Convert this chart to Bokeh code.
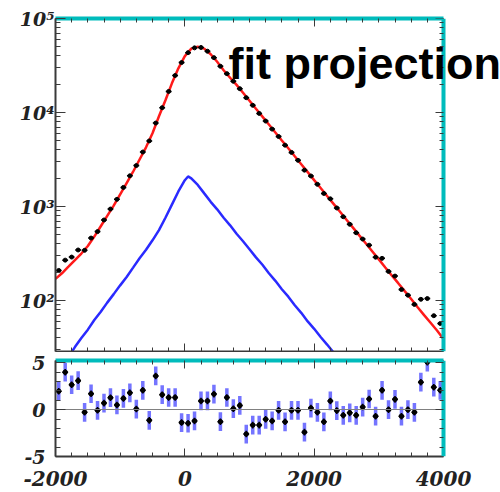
import numpy as np
from bokeh.plotting import figure
from bokeh.layouts import column
from bokeh.models import Range1d, LinearAxis, LogAxis, FixedTicker, Label
from bokeh.embed import file_html
from bokeh.resources import INLINE

# ---------------- data ----------------
bin_centers = [-1950, -1850, -1750, -1650, -1550, -1450, -1350, -1250, -1150, -1050,
               -950, -850, -750, -650, -550, -450, -350, -250, -150, -50,
               50, 150, 250, 350, 450, 550, 650, 750, 850, 950,
               1050, 1150, 1250, 1350, 1450, 1550, 1650, 1750, 1850, 1950,
               2050, 2150, 2250, 2350, 2450, 2550, 2650, 2750, 2850, 2950,
               3050, 3150, 3250, 3350, 3450, 3550, 3650, 3750, 3850, 3950]

data_counts = [209, 269, 290, 345, 342, 462, 541, 719, 940, 1192,
               1596, 2123, 2727, 3798, 4989, 7723, 11260, 16764, 24751, 34022,
               43349, 48713, 49184, 44864, 38343, 31035, 25912, 21493, 17925, 14374,
               11924, 9789, 8111, 6662, 5554, 4493, 3763, 3101, 2438, 2112,
               1722, 1377, 1207, 965, 779, 647, 526, 451, 388, 289,
               281, 204, 182, 131, 114, 91, 103, 105, 69, 57]

residuals = [1.97, 4.0, 2.66, 3.1, -0.28, 1.7, -0.07, 0.7, 1.28, 0.5,
             1.2, 1.8, 0.07, 2.07, -1.14, 3.6, 1.6, 1.3, 1.3, -1.38,
             -1.45, -1.2, 0.93, 0.93, 1.66, -1.28, 1.3, 0.1, 0.45, -2.6,
             -1.65, -1.65, -1.03, -1.2, -0.07, -1.3, -0.07, -0.07, -2.4, 0.17,
             -0.28, -1.3, 0.93, -0.1, -0.6, -0.34, -0.6, 0.28, 1.14, -0.7,
             2.07, 0.0, 1.1, -0.7, 0.0, -0.28, 2.93, 5.07, 2.4, 2.07]

fit_x = [-2000, -1900, -1800, -1700, -1600, -1500, -1400, -1300, -1200, -1100,
         -1000, -900, -800, -700, -600, -500, -400, -300, -200, -100,
         0, 100, 200, 300, 400, 500, 600, 700, 800, 900,
         1000, 1100, 1200, 1300, 1400, 1500, 1600, 1700, 1800, 1900,
         2000, 2100, 2200, 2300, 2400, 2500, 2600, 2700, 2800, 2900,
         3000, 3100, 3200, 3300, 3400, 3500, 3600, 3700, 3800, 3900, 4000]
fit_total = [170, 195, 229, 269, 316, 380, 479, 617, 794, 1023,
             1349, 1778, 2344, 3162, 4266, 6026, 9120, 13490, 20420, 29510,
             39810, 47860, 50120, 47860, 41690, 34670, 28180, 23440, 19680, 16220,
             13340, 10960, 9036, 7447, 6138, 5047, 4159, 3420, 2818, 2323,
             1910, 1574, 1294, 1067, 879, 723, 596, 490, 404, 333,
             274, 225, 185, 153, 126, 104, 85, 70, 58, 48, 39]

comp_x = [-1800, -1700, -1600, -1500, -1400, -1300, -1200, -1100, -1000, -900,
          -800, -700, -600, -500, -400, -300, -200, -100, 0, 50,
          100, 200, 300, 400, 500, 600, 700, 800, 900, 1000,
          1100, 1200, 1300, 1400, 1500, 1600, 1700, 1800, 1900, 2000,
          2100, 2200, 2300, 2400]
comp_y = [25, 32, 40, 49, 62, 76, 95, 117, 145, 178,
          224, 282, 347, 437, 562, 759, 1047, 1445, 1905, 2089,
          1995, 1698, 1380, 1122, 933, 759, 631, 513, 427, 351,
          288, 240, 195, 162, 132, 110, 89, 74, 60, 50,
          41, 34, 28, 23]

x_ticks = [-2000, 0, 2000, 4000]
x_tick_labels = ["-2000", "0", "2000", "4000"]
log_ticks = [100, 1000, 10000, 100000]
log_tick_labels = ["10\u00b2", "10\u00b3", "10\u2074", "10\u2075"]
res_ticks = [-5, 0, 5]
res_tick_labels = ["-5", "0", "5"]
title_text = "fit projection"

# ---------------- styling helpers ----------------
CYAN = "#00bcbc"
AXC = "#3a3a3a"
LFONT = "DejaVu Serif"

x_minor = [v for v in range(-2000, 4001, 250) if v not in x_ticks]
log_minor = [m * 10 ** k for k in range(1, 5) for m in range(2, 10)]
res_minor = [-4, -3, -2, -1, 1, 2, 3, 4]

X0, X1 = -2000, 4000
# frames run to the window edge so the title can overflow the right frame line;
# the visible frame (cyan lines) stops at X1 = 4000
X1_EXT = X0 + (500 - 55) * (X1 - X0) / 388.0


def hidden_axis(ax, ticks, minor, color=CYAN, width=4, tick_in=8):
    ax.ticker = FixedTicker(ticks=ticks, minor_ticks=minor)
    ax.major_label_overrides = {t: "" for t in ticks}
    ax.major_label_text_font_size = "0px"
    ax.major_label_standoff = 0
    ax.major_tick_out = 0
    ax.minor_tick_out = 0
    ax.major_tick_in = tick_in
    ax.minor_tick_in = tick_in // 2
    ax.major_tick_line_color = AXC if tick_in else None
    ax.minor_tick_line_color = AXC if tick_in else None
    ax.axis_line_color = color
    ax.axis_line_width = width


def label_axis(ax, ticks, labels, minor, size, standoff, tick_in=10):
    ax.ticker = FixedTicker(ticks=ticks, minor_ticks=minor)
    ax.major_label_overrides = dict(zip(ticks, labels))
    ax.major_label_text_font = LFONT
    ax.major_label_text_font_style = "bold italic"
    ax.major_label_text_font_size = size
    ax.major_label_text_color = "#222222"
    ax.major_label_standoff = standoff
    ax.major_tick_out = 0
    ax.minor_tick_out = 0
    ax.major_tick_in = tick_in
    ax.minor_tick_in = tick_in // 2
    ax.axis_line_color = AXC
    ax.axis_line_width = 2
    ax.major_tick_line_color = AXC
    ax.minor_tick_line_color = AXC


# ---------------- top panel ----------------
top = figure(width=500, height=352, x_range=Range1d(X0, X1_EXT), y_range=Range1d(28.7, 100000),
             y_axis_type="log", output_backend="svg", toolbar_location=None,
             x_axis_location=None, y_axis_location=None,
             min_border_left=55, min_border_right=0, min_border_top=18, min_border_bottom=1)
top.grid.visible = False
top.outline_line_color = None
top.background_fill_color = "white"
top.border_fill_color = "white"

ly = LogAxis()
label_axis(ly, log_ticks, log_tick_labels, log_minor, "19px", 1)
top.add_layout(ly, "left")

bx = LinearAxis(bounds=(X0, X1))
hidden_axis(bx, x_ticks, x_minor, color=AXC, width=2)
top.add_layout(bx, "below")

ax_top = LinearAxis(bounds=(X0, X1))
hidden_axis(ax_top, x_ticks, x_minor)
top.add_layout(ax_top, "above")

ry = LogAxis(fixed_location=X1)
hidden_axis(ry, log_ticks, log_minor)
top.add_layout(ry, "right")

top.line(fit_x, fit_total, line_color="#ff1a1a", line_width=2.5)
top.line(comp_x, comp_y, line_color="#2a2aff", line_width=2.5)

bc = np.array(bin_centers, dtype=float)
dc = np.array(data_counts, dtype=float)
top.segment(x0=bc - 45, y0=dc, x1=bc + 45, y1=dc, line_color="black", line_width=1.5)
top.scatter(bc, dc, size=4, color="black")

top.add_layout(Label(x=675, y=33000, text=title_text, text_font="Liberation Sans",
                     text_font_style="bold", text_font_size="45px",
                     text_baseline="alphabetic", text_color="black"))

# ---------------- residual panel ----------------
bot = figure(width=500, height=140, x_range=Range1d(X0, X1_EXT), y_range=Range1d(-5, 5.25),
             output_backend="svg", toolbar_location=None,
             x_axis_location=None, y_axis_location=None,
             min_border_left=55, min_border_right=0, min_border_top=8, min_border_bottom=36)
bot.grid.visible = False
bot.outline_line_color = None
bot.background_fill_color = "white"
bot.border_fill_color = "white"

lr = LinearAxis()
label_axis(lr, res_ticks, res_tick_labels, res_minor, "19px", 10)
bot.add_layout(lr, "left")

bxx = LinearAxis(bounds=(X0, X1))
label_axis(bxx, x_ticks, x_tick_labels, x_minor, "20px", 14, tick_in=8)
bot.add_layout(bxx, "below")

at2 = LinearAxis(bounds=(X0, X1))
hidden_axis(at2, x_ticks, x_minor)
bot.add_layout(at2, "above")

zero_line = LinearAxis(bounds=(X0, X1), fixed_location=0)
hidden_axis(zero_line, x_ticks, [], color="#808080", width=1, tick_in=0)
bot.add_layout(zero_line, "above")

rr = LinearAxis(fixed_location=X1)
hidden_axis(rr, res_ticks, res_minor)
bot.add_layout(rr, "right")

rs = np.array(residuals, dtype=float)
bot.segment(x0=bc, y0=rs - 1, x1=bc, y1=rs + 1, line_color="#4646ff", line_width=3.5, line_alpha=0.75)
bot.segment(x0=bc - 45, y0=rs, x1=bc + 45, y1=rs, line_color="black", line_width=1.5)
bot.segment(x0=bc, y0=rs - 0.35, x1=bc, y1=rs + 0.35, line_color="black", line_width=1.5)
bot.scatter(bc, rs, size=4.5, color="black")

layout = column(top, bot, spacing=0)
open("out.html", "w").write(file_html(layout, INLINE))
